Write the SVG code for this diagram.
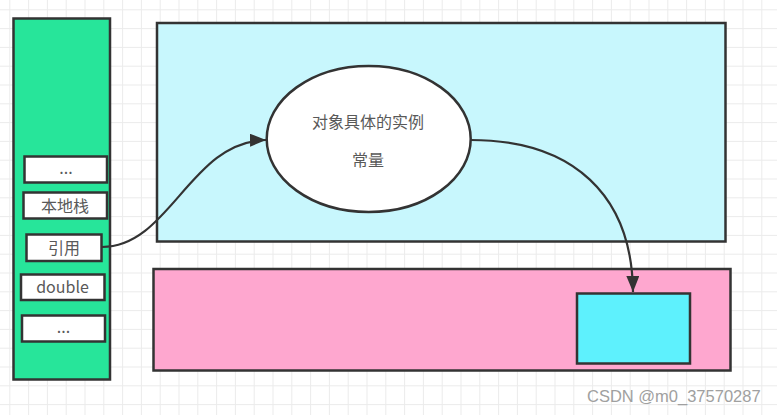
<svg xmlns="http://www.w3.org/2000/svg" width="777" height="415" viewBox="0 0 777 415">
<defs>
<pattern id="grid" x="9.3" y="9.3" width="18.8" height="18.8" patternUnits="userSpaceOnUse">
<path d="M0 0.5H18.8M0.5 0V18.8" stroke="#ebebeb" stroke-width="1" fill="none"/>
</pattern>
<marker id="arr" markerWidth="17" markerHeight="13" refX="16" refY="6.5" orient="auto" markerUnits="userSpaceOnUse">
<path d="M0 0L16 6.5L0 13Z" fill="#333"/>
</marker>
<style>
.box{stroke:#333;stroke-width:2.5}
.cell{fill:#fff;stroke:#333;stroke-width:2.5}
.t{font-family:"Noto Sans CJK SC","Liberation Sans",sans-serif;font-size:16px;fill:#595959;text-anchor:middle}
.edge{fill:none;stroke:#333;stroke-width:2.2}
</style>
</defs>
<rect width="777" height="415" fill="#fff"/>
<rect width="777" height="415" fill="url(#grid)"/>
<g id="stack">
<rect class="box" x="13.5" y="18.5" width="96.5" height="361" fill="#27e59a"/>
</g>
<g id="cell-dots1"><rect class="cell" x="24.5" y="156.5" width="82.5" height="26"/><text class="t" x="66" y="174">...</text></g>
<g id="cell-native"><rect class="cell" x="23.5" y="192.5" width="83.5" height="26"/><text class="t" x="65" y="211.5">本地栈</text></g>
<g id="cell-ref"><rect class="cell" x="26.5" y="234.5" width="75" height="26.5"/><text class="t" x="64" y="253.5">引用</text></g>
<g id="cell-double"><rect class="cell" x="21" y="274.5" width="83.5" height="25.5"/><text class="t" x="62.5" y="293">double</text></g>
<g id="cell-dots2"><rect class="cell" x="22" y="315.5" width="83" height="26"/><text class="t" x="63.5" y="333">...</text></g>
<g id="heap">
<rect class="box" x="157" y="23" width="568.5" height="218.5" fill="#c8f7fd"/>
</g>
<g id="pink">
<rect class="box" x="153.5" y="269" width="577" height="101.5" fill="#fea7cf"/>
</g>
<g id="inner">
<rect class="box" x="577" y="293.5" width="113" height="70" fill="#5ef1fd"/>
</g>
<g id="object">
<ellipse class="box" cx="368.7" cy="139" rx="102" ry="73" fill="#fff"/>
<text class="t" x="368" y="127.5">对象具体的实例</text>
<text class="t" x="368" y="165.5">常量</text>
</g>
<g id="connectors">
<path class="edge" d="M102,247 C170,247 190,141 266,140" marker-end="url(#arr)"/>
<path class="edge" d="M470.7,140 C573,140 632,195 633,292" marker-end="url(#arr)"/>
</g>
<text x="587" y="402" font-family="Liberation Sans, sans-serif" font-size="16.5" fill="#a0a0a0">CSDN @m0_37570287</text>
</svg>
